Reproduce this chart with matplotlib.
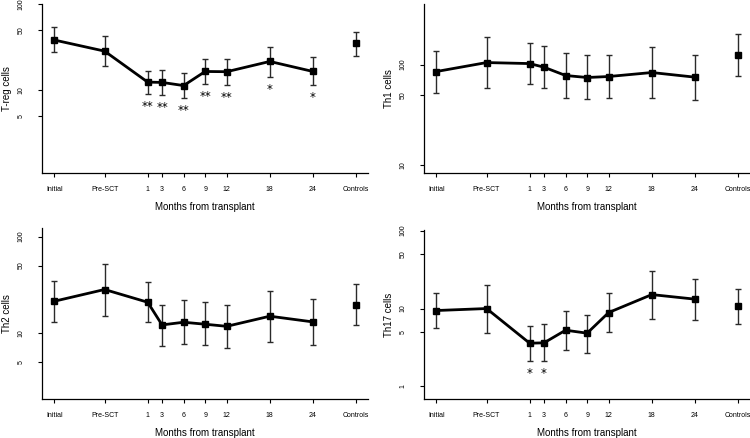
import numpy as np
import matplotlib
matplotlib.use("Agg")
import matplotlib.pyplot as plt
import matplotlib.transforms as mtransforms
from matplotlib.ticker import FixedLocator, NullLocator

plt.rcParams['font.family'] = ['Liberation Sans', 'DejaVu Sans']

# x positions in months (Initial and Pre-SCT before transplant, Controls after)
x_months = [-12, -5, 1, 3, 6, 9, 12, 18, 24]
x_controls = 30
tick_pos = x_months + [x_controls]
tick_labels = ["Initial", "Pre-SCT", "1", "3", "6", "9", "12", "18", "24", "Controls"]

# T-reg cells
treg_mean = [38.4, 28.5, 12.4, 12.3, 11.3, 16.5, 16.4, 21.6, 16.5]
treg_low = [27.5, 19.2, 9.0, 8.7, 8.1, 11.8, 11.5, 14.3, 11.5]
treg_high = [53.9, 43.1, 16.8, 17.1, 15.9, 23.2, 23.2, 32.0, 24.1]
treg_ctrl = [35.1, 25.2, 48.0]
treg_stars = ["", "", "**", "**", "**", "**", "**", "*", "*"]

# Th1 cells
th1_mean = [85.2, 104.7, 102.3, 94.1, 77.8, 74.3, 76.0, 83.3, 74.9]
th1_low = [52.3, 57.8, 64.3, 57.8, 46.7, 45.3, 45.9, 45.9, 44.2]
th1_high = [137.7, 189.7, 165.4, 154.4, 129.6, 123.8, 125.7, 150.9, 125.7]
th1_ctrl = [125.7, 77.8, 201.7]
th1_stars = [""] * 9

# Th2 cells
th2_mean = [21.3, 28.2, 20.8, 12.1, 12.9, 12.3, 11.7, 14.9, 13.0]
th2_low = [13.1, 15.1, 13.1, 7.3, 7.75, 7.45, 7.05, 8.0, 7.5]
th2_high = [34.9, 52.4, 33.6, 19.7, 21.8, 20.8, 19.7, 27.5, 22.4]
th2_ctrl = [19.7, 12.2, 31.8]
th2_stars = [""] * 9

# Th17 cells
th17_mean = [9.43, 10.0, 3.59, 3.63, 5.27, 4.83, 8.89, 15.1, 13.2]
th17_low = [5.6, 4.88, 2.15, 2.11, 2.98, 2.7, 5.07, 7.45, 7.23]
th17_high = [16.0, 20.3, 6.0, 6.24, 9.25, 8.38, 15.7, 30.7, 24.2]
th17_ctrl = [10.7, 6.42, 18.0]
th17_stars = ["", "", "*", "*", "", "", "", "", ""]

panels = [
    ("T-reg cells", treg_mean, treg_low, treg_high, treg_ctrl, treg_stars,
     (1.08, 100), [5, 10, 50, 100], [0.0564, 0.605, 0.4343, 0.385]),
    ("Th1 cells", th1_mean, th1_low, th1_high, th1_ctrl, th1_stars,
     (8.3, 398), [10, 50, 100], [0.5657, 0.605, 0.4343, 0.385]),
    ("Th2 cells", th2_mean, th2_low, th2_high, th2_ctrl, th2_stars,
     (2.06, 122), [5, 10, 50, 100], [0.0564, 0.089, 0.4343, 0.39]),
    ("Th17 cells", th17_mean, th17_low, th17_high, th17_ctrl, th17_stars,
     (0.69, 102), [1, 5, 10, 50, 100], [0.5657, 0.089, 0.4343, 0.386]),
]

fig = plt.figure(figsize=(7.5, 4.38), dpi=100)
# labels in the original sit a little left of their ticks
shift_left = mtransforms.ScaledTranslation(-3 / 100, 0, fig.dpi_scale_trans)

for ylab, mean, low, high, ctrl, stars, ylim, yticks, rect in panels:
    ax = fig.add_axes(rect)
    mean = np.array(mean)
    yerr = [mean - np.array(low), np.array(high) - mean]
    ax.errorbar(x_months, mean, yerr=yerr, fmt="none", ecolor="#2a2a2a",
                elinewidth=1.0, capsize=2.5, capthick=1.0, zorder=2)
    ax.plot(x_months, mean, "-", color="black", lw=2.0, zorder=3)
    ax.plot(x_months, mean, "s", color="black", ms=5, zorder=4)
    c_mean, c_low, c_high = ctrl
    ax.errorbar([x_controls], [c_mean], yerr=[[c_mean - c_low], [c_high - c_mean]],
                fmt="s", color="black", ms=5, ecolor="#2a2a2a",
                elinewidth=1.0, capsize=2.5, capthick=1.0)
    for xm, lo, s in zip(x_months, low, stars):
        if s:
            ax.annotate(s, (xm, lo), xytext=(0, -9), textcoords="offset points",
                        ha="center", va="center", fontsize=8.5,
                        family=["DejaVu Sans"])

    ax.set_yscale("log")
    ax.set_ylim(*ylim)
    ax.set_xlim(-13.67, 31.67)
    ax.yaxis.set_major_locator(FixedLocator(yticks))
    ax.yaxis.set_minor_locator(NullLocator())
    ax.set_yticklabels([str(v) for v in yticks], rotation=90, va="center")
    ax.set_xticks(tick_pos)
    ax.set_xticklabels(tick_labels)
    for lbl in ax.get_xticklabels():
        lbl.set_transform(lbl.get_transform() + shift_left)
    ax.tick_params(axis="both", labelsize=5, length=3, width=0.8)
    ax.tick_params(axis="x", pad=6)
    ax.tick_params(axis="y", pad=10)
    ax.spines["top"].set_visible(False)
    ax.spines["right"].set_visible(False)
    ax.spines["left"].set_linewidth(0.9)
    ax.spines["bottom"].set_linewidth(0.9)
    ax.set_xlabel("Months from transplant", fontsize=7, labelpad=7)
    ax.set_ylabel(ylab, fontsize=7, labelpad=4)

fig.savefig("out.png", dpi=100)
